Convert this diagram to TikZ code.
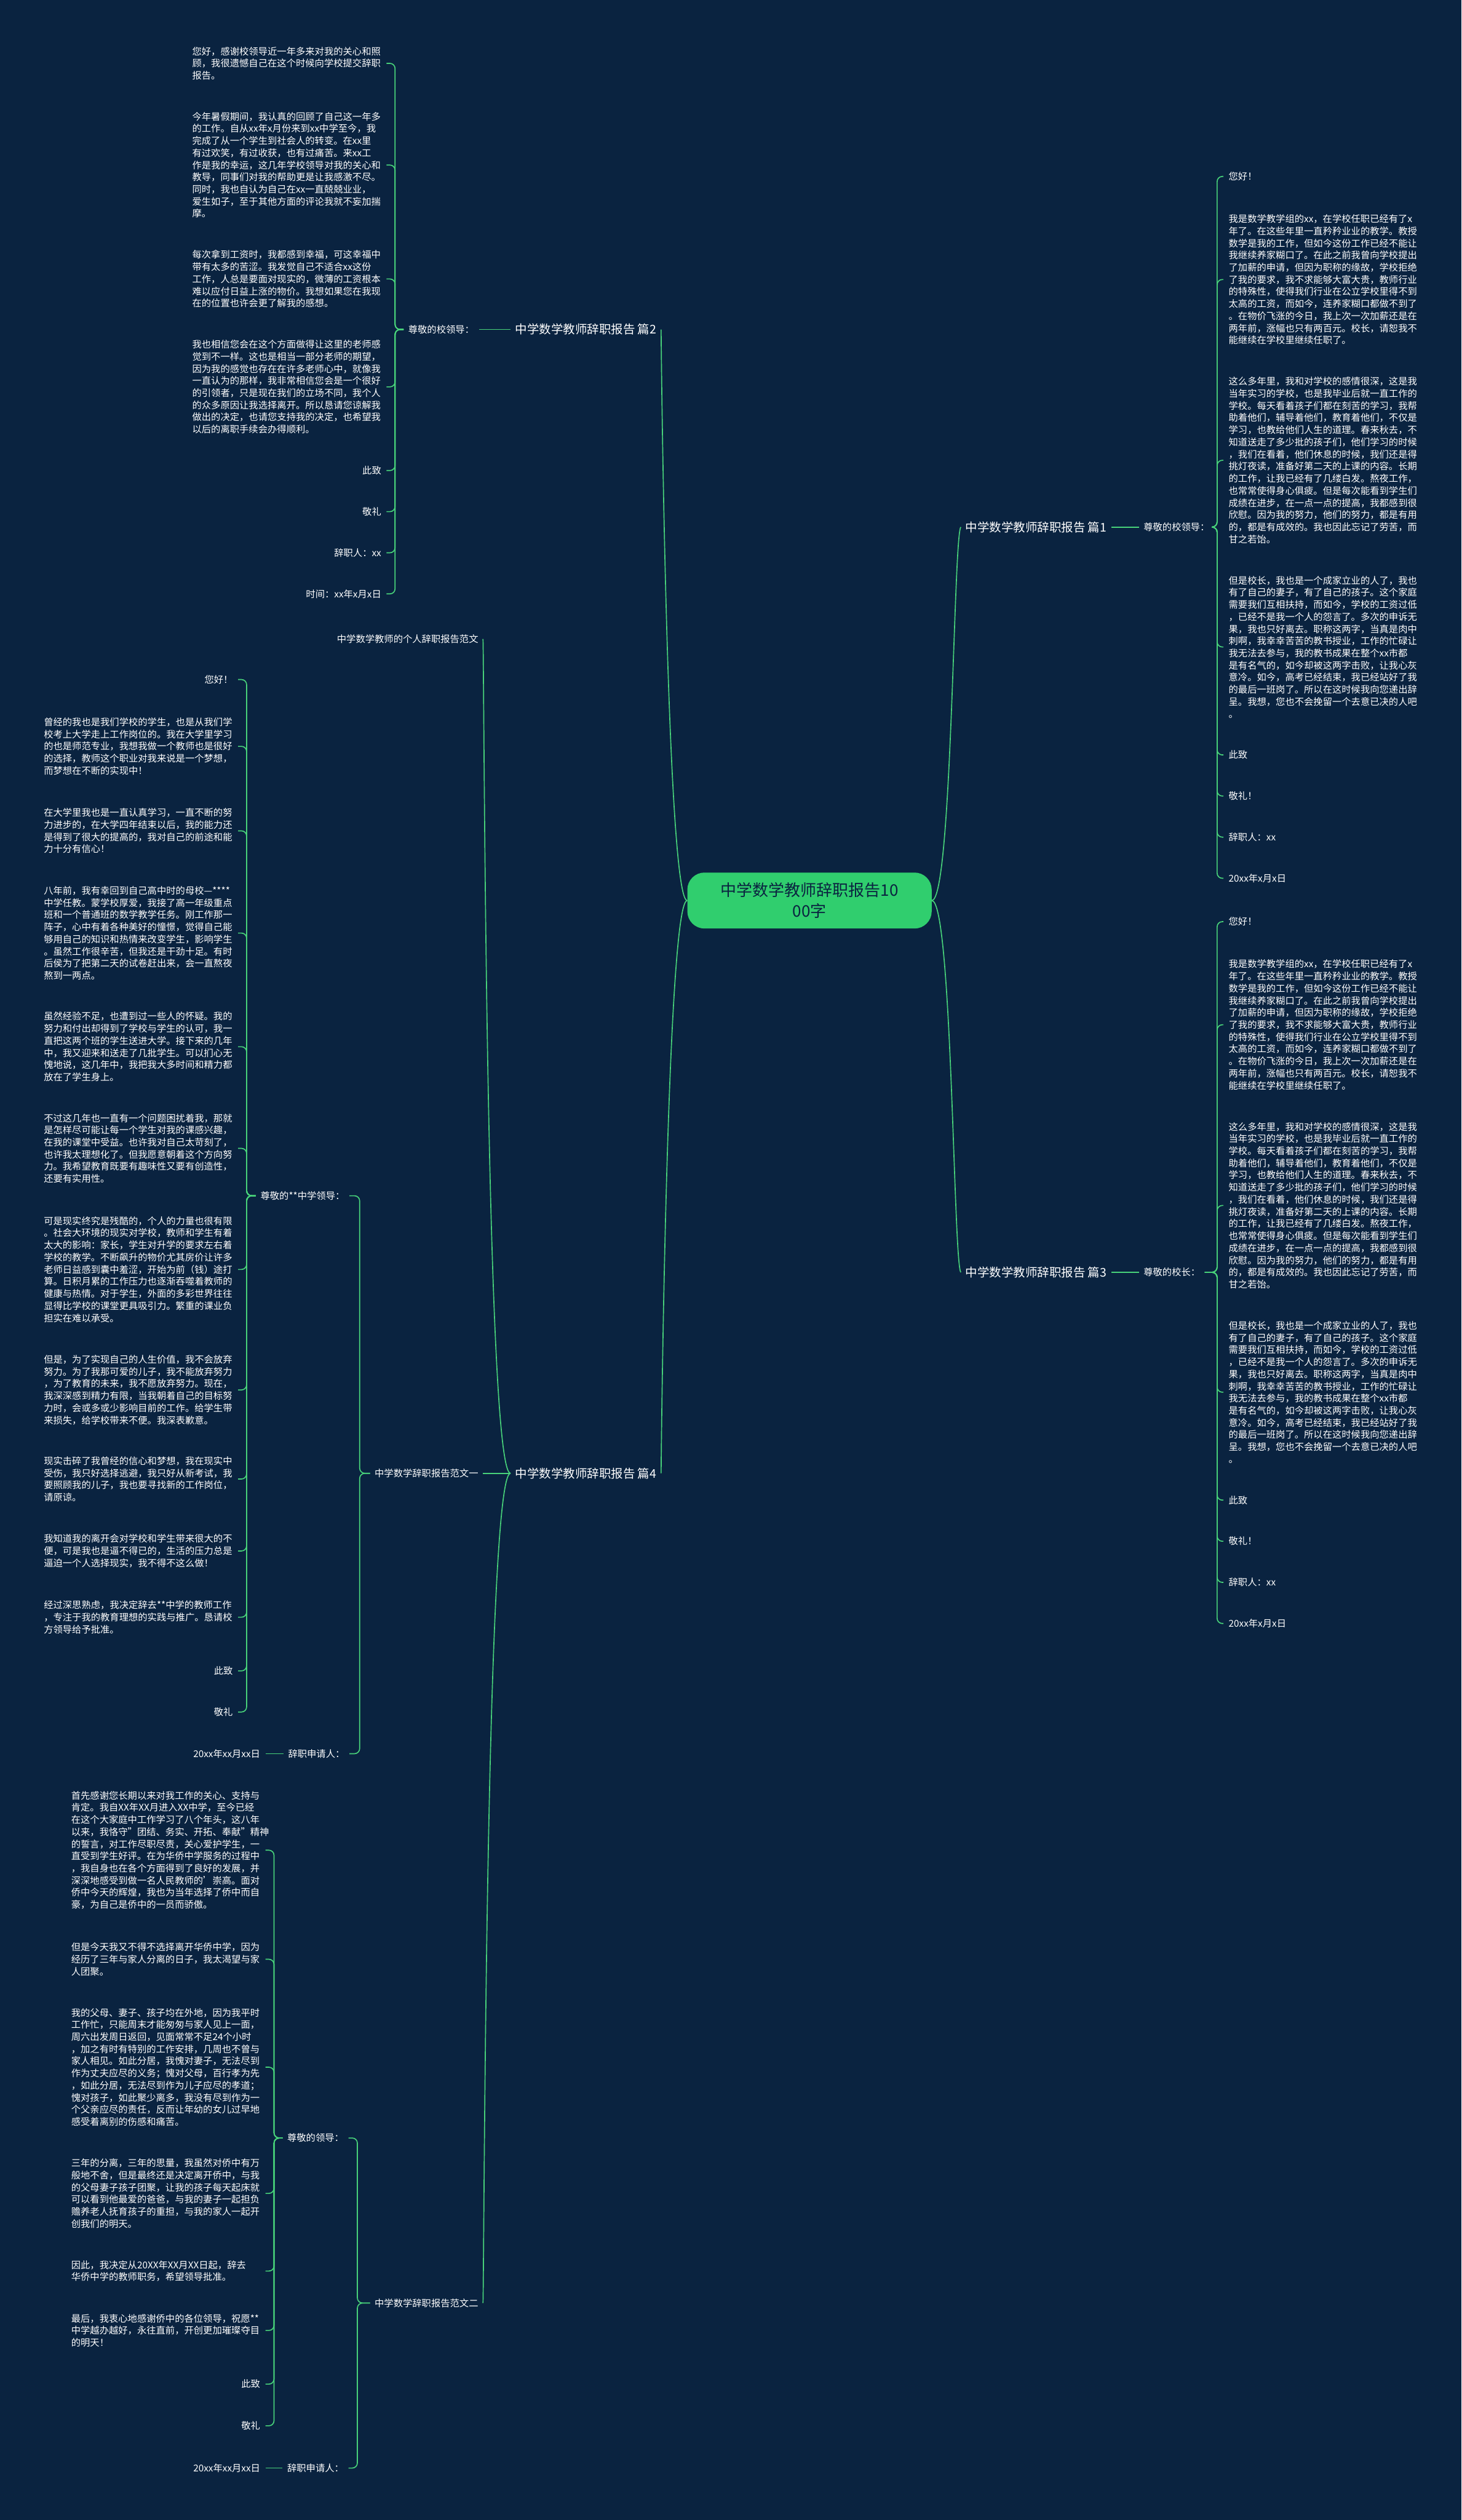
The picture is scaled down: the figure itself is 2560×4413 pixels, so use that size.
\documentclass[tikz,border=0pt]{standalone}
\usepackage{fontspec}
\setmainfont{Noto Sans CJK SC}
\definecolor{bg}{RGB}{10,35,64}
\definecolor{ln}{RGB}{72,210,122}
\definecolor{hubg}{RGB}{48,206,110}
\newcommand\pyA{我是数学教学组的xx，在学校任职已经有了x\\年了。在这些年里一直矜矜业业的教学。教授\\数学是我的工作，但如今这份工作已经不能让\\我继续养家糊口了。在此之前我曾向学校提出\\了加薪的申请，但因为职称的缘故，学校拒绝\\了我的要求，我不求能够大富大贵，教师行业\\的特殊性，使得我们行业在公立学校里得不到\\太高的工资，而如今，连养家糊口都做不到了\\。在物价飞涨的今日，我上次一次加薪还是在\\两年前，涨幅也只有两百元。校长，请恕我不\\能继续在学校里继续任职了。}
\newcommand\pyB{这么多年里，我和对学校的感情很深，这是我\\当年实习的学校，也是我毕业后就一直工作的\\学校。每天看着孩子们都在刻苦的学习，我帮\\助着他们，辅导着他们，教育着他们，不仅是\\学习，也教给他们人生的道理。春来秋去，不\\知道送走了多少批的孩子们，他们学习的时候\\，我们在看着，他们休息的时候，我们还是得\\挑灯夜读，准备好第二天的上课的内容。长期\\的工作，让我已经有了几缕白发。熬夜工作，\\也常常使得身心俱疲。但是每次能看到学生们\\成绩在进步，在一点一点的提高，我都感到很\\欣慰。因为我的努力，他们的努力，都是有用\\的，都是有成效的。我也因此忘记了劳苦，而\\甘之若饴。}
\newcommand\pyC{但是校长，我也是一个成家立业的人了，我也\\有了自己的妻子，有了自己的孩子。这个家庭\\需要我们互相扶持，而如今，学校的工资过低\\，已经不是我一个人的怨言了。多次的申诉无\\果，我也只好离去。职称这两字，当真是肉中\\刺啊，我幸幸苦苦的教书授业，工作的忙碌让\\我无法去参与，我的教书成果在整个xx市都\\是有名气的，如今却被这两字击败，让我心灰\\意冷。如今，高考已经结束，我已经站好了我\\的最后一班岗了。所以在这时候我向您递出辞\\呈。我想，您也不会挽留一个去意已决的人吧\\。}
\begin{document}
\begin{tikzpicture}[x=1pt,y=-1pt,
  body/.style={text=white,font=\fontsize{16.5}{21.25}\selectfont,align=left,inner xsep=9pt,inner ysep=0pt},
  rb/.style={body,anchor=west},
  lb/.style={body,anchor=east},
  wb/.style={text width=331pt},
  lab/.style={text=white,font=\fontsize{16.5}{21.25}\selectfont,inner xsep=8pt,inner ysep=0pt},
  big/.style={text=white,font=\fontsize{21}{25}\selectfont,inner xsep=8pt,inner ysep=0pt},
  br/.style={draw=ln,line width=1.8pt,rounded corners=9pt},
  cv/.style={draw=ln,line width=1.8pt},
  hub/.style={rounded corners=30pt,fill=hubg,text=bg,font=\fontsize{28}{37}\selectfont,align=center,minimum width=428pt,minimum height=98pt,inner sep=0pt}]
\fill[bg] (0,0) rectangle (2560,4413);
\useasboundingbox (0,0) rectangle (2560,4413);

\node[hub] (c) at (1418,1577) {中学数学教师辞职报告10\\00字};

% ---------- right: 篇1 ----------
\node[big,anchor=west] (p1) at (1683,923) {中学数学教师辞职报告 篇1};
\node[lab,anchor=west] (q1) at (1995,923) {尊敬的校领导：};
\node[rb] (a1) at (2143,309) {您好！};
\node[rb,wb] (a2) at (2143,489.5) {\pyA};
\node[rb,wb] (a3) at (2143,806) {\pyB};
\node[rb,wb] (a4) at (2143,1133) {\pyC};
\node[rb] (a5) at (2143,1322) {此致};
\node[rb] (a6) at (2143,1394) {敬礼！};
\node[rb] (a7) at (2143,1466) {辞职人：xx};
\node[rb] (a8) at (2143,1538) {20xx年x月x日};
\draw[cv] (c.east) .. controls (1668,1577) and (1670,940) .. (p1.west);
\draw[cv] (p1.east) -- (q1.west);
\foreach \n in {a1,a2,a3,a4,a5,a6,a7,a8} \draw[br] (q1.east) -- (2132,923) |- (\n.west);

% ---------- right: 篇3 ----------
\node[big,anchor=west] (p3) at (1683,2228) {中学数学教师辞职报告 篇3};
\node[lab,anchor=west] (q3) at (1995,2228) {尊敬的校长：};
\node[rb] (b1) at (2143,1614) {您好！};
\node[rb,wb] (b2) at (2143,1794.5) {\pyA};
\node[rb,wb] (b3) at (2143,2111) {\pyB};
\node[rb,wb] (b4) at (2143,2438) {\pyC};
\node[rb] (b5) at (2143,2627) {此致};
\node[rb] (b6) at (2143,2699) {敬礼！};
\node[rb] (b7) at (2143,2771) {辞职人：xx};
\node[rb] (b8) at (2143,2843) {20xx年x月x日};
\draw[cv] (c.east) .. controls (1668,1577) and (1670,2210) .. (p3.west);
\draw[cv] (p3.east) -- (q3.west);
\foreach \n in {b1,b2,b3,b4,b5,b6,b7,b8} \draw[br] (q3.east) -- (2132,2228) |- (\n.west);

% ---------- left: 篇2 ----------
\node[big,anchor=east] (p2) at (1158,577) {中学数学教师辞职报告 篇2};
\node[lab,anchor=west] (q2) at (707,577) {尊敬的校领导：};
\node[lb,wb] (d1) at (677,111) {您好，感谢校领导近一年多来对我的关心和照\\顾，我很遗憾自己在这个时候向学校提交辞职\\报告。};
\node[lb,wb] (d2) at (677,289) {今年暑假期间，我认真的回顾了自己这一年多\\的工作。自从xx年x月份来到xx中学至今，我\\完成了从一个学生到社会人的转变。在xx里\\有过欢笑，有过收获，也有过痛苦。来xx工\\作是我的幸运，这几年学校领导对我的关心和\\教导，同事们对我的帮助更是让我感激不尽。\\同时，我也自认为自己在xx一直兢兢业业，\\爱生如子，至于其他方面的评论我就不妄加揣\\摩。};
\node[lb,wb] (d3) at (677,488.5) {每次拿到工资时，我都感到幸福，可这幸福中\\带有太多的苦涩。我发觉自己不适合xx这份\\工作，人总是要面对现实的，微薄的工资根本\\难以应付日益上涨的物价。我想如果您在我现\\在的位置也许会更了解我的感想。};
\node[lb,wb] (d4) at (677,677.5) {我也相信您会在这个方面做得让这里的老师感\\觉到不一样。这也是相当一部分老师的期望，\\因为我的感觉也存在在许多老师心中，就像我\\一直认为的那样，我非常相信您会是一个很好\\的引领者，只是现在我们的立场不同，我个人\\的众多原因让我选择离开。所以恳请您谅解我\\做出的决定，也请您支持我的决定，也希望我\\以后的离职手续会办得顺利。};
\node[lb] (d5) at (677,824) {此致};
\node[lb] (d6) at (677,896) {敬礼};
\node[lb] (d7) at (677,968) {辞职人：xx};
\node[lb] (d8) at (677,1040) {时间：xx年x月x日};
\draw[cv] (c.west) .. controls (1168,1577) and (1158,600) .. (p2.east);
\draw[cv] (p2.west) -- (q2.east);
\foreach \n in {d1,d2,d3,d4,d5,d6,d7,d8} \draw[br] (q2.west) -- (692,577) |- (\n.east);

% ---------- left: 篇4 ----------
\node[big,anchor=east] (p4) at (1158,2580) {中学数学教师辞职报告 篇4};
\draw[cv] (c.west) .. controls (1168,1577) and (1158,2560) .. (p4.east);
\node[lab,anchor=east] (f0) at (846,1119) {中学数学教师的个人辞职报告范文};
\node[lab,anchor=east] (f1) at (846,2580) {中学数学辞职报告范文一};
\node[lab,anchor=east] (f2) at (846,4033) {中学数学辞职报告范文二};
\draw[cv] (p4.west) .. controls (850,2580) and (848,1140) .. (f0.east);
\draw[cv] (p4.west) -- (f1.east);
\draw[cv] (p4.west) .. controls (850,2580) and (848,4010) .. (f2.east);

% 范文一
\node[lab,anchor=east] (g1) at (612,2094) {尊敬的**中学领导：};
\node[lab,anchor=east] (g2) at (612,3071) {辞职申请人：};
\foreach \n in {g1,g2} \draw[br] (f1.west) -- (630,2580) |- (\n.east);
\node[lb] (h0) at (465,3071) {20xx年xx月xx日};
\draw[cv] (g2.west) -- (h0.east);
\node[lb] (e1) at (417,1190) {您好！};
\node[lb,wb] (e2) at (417,1307) {曾经的我也是我们学校的学生，也是从我们学\\校考上大学走上工作岗位的。我在大学里学习\\的也是师范专业，我想我做一个教师也是很好\\的选择，教师这个职业对我来说是一个梦想，\\而梦想在不断的实现中！};
\node[lb,wb] (e3) at (417,1455) {在大学里我也是一直认真学习，一直不断的努\\力进步的，在大学四年结束以后，我的能力还\\是得到了很大的提高的，我对自己的前途和能\\力十分有信心！};
\node[lb,wb] (e4) at (417,1634) {八年前，我有幸回到自己高中时的母校—****\\中学任教。蒙学校厚爱，我接了高一年级重点\\班和一个普通班的数学教学任务。刚工作那一\\阵子，心中有着各种美好的憧憬，觉得自己能\\够用自己的知识和热情来改变学生，影响学生\\。虽然工作很辛苦，但我还是干劲十足。有时\\后侯为了把第二天的试卷赶出来，会一直熬夜\\熬到一两点。};
\node[lb,wb] (e5) at (417,1833) {虽然经验不足，也遭到过一些人的怀疑。我的\\努力和付出却得到了学校与学生的认可，我一\\直把这两个班的学生送进大学。接下来的几年\\中，我又迎来和送走了几批学生。可以扪心无\\愧地说，这几年中，我把我大多时间和精力都\\放在了学生身上。};
\node[lb,wb] (e6) at (417,2011) {不过这几年也一直有一个问题困扰着我，那就\\是怎样尽可能让每一个学生对我的课感兴趣，\\在我的课堂中受益。也许我对自己太苛刻了，\\也许我太理想化了。但我愿意朝着这个方向努\\力。我希望教育既要有趣味性又要有创造性，\\还要有实用性。};
\node[lb,wb] (e7) at (417,2223) {可是现实终究是残酷的，个人的力量也很有限\\。社会大环境的现实对学校，教师和学生有着\\太大的影响：家长，学生对升学的要求左右着\\学校的教学。不断飙升的物价尤其房价让许多\\老师日益感到囊中羞涩，开始为前（钱）途打\\算。日积月累的工作压力也逐渐吞噬着教师的\\健康与热情。对于学生，外面的多彩世界往往\\显得比学校的课堂更具吸引力。繁重的课业负\\担实在难以承受。};
\node[lb,wb] (e8) at (417,2434) {但是，为了实现自己的人生价值，我不会放弃\\努力。为了我那可爱的儿子，我不能放弃努力\\，为了教育的未来，我不愿放弃努力。现在，\\我深深感到精力有限，当我朝着自己的目标努\\力时，会或多或少影响目前的工作。给学生带\\来损失，给学校带来不便。我深表歉意。};
\node[lb,wb] (e9) at (417,2590) {现实击碎了我曾经的信心和梦想，我在现实中\\受伤，我只好选择逃避，我只好从新考试，我\\要照顾我的儿子，我也要寻找新的工作岗位，\\请原谅。};
\node[lb,wb] (e10) at (417,2716) {我知道我的离开会对学校和学生带来很大的不\\便，可是我也是逼不得已的，生活的压力总是\\逼迫一个人选择现实，我不得不这么做！};
\node[lb,wb] (e11) at (417,2832) {经过深思熟虑，我决定辞去**中学的教师工作\\，专注于我的教育理想的实践与推广。恳请校\\方领导给予批准。};
\node[lb] (e12) at (417,2926) {此致};
\node[lb] (e13) at (417,2998) {敬礼};
\foreach \n in {e1,e2,e3,e4,e5,e6,e7,e8,e9,e10,e11,e12,e13} \draw[br] (g1.west) -- (432,2094) |- (\n.east);

% 范文二
\node[lab,anchor=west] (k1) at (495,3744) {尊敬的领导：};
\node[lab,anchor=west] (k2) at (495,4322) {辞职申请人：};
\foreach \n in {k1,k2} \draw[br] (f2.west) -- (626,4033) |- (\n.east);
\node[lb] (m0) at (465,4322) {20xx年xx月xx日};
\draw[cv] (k2.west) -- (m0.east);
\node[lb,wb] (n1) at (465,3240) {首先感谢您长期以来对我工作的关心、支持与\\肯定。我自XX年XX月进入XX中学，至今已经\\在这个大家庭中工作学习了八个年头，这八年\\以来，我恪守"团结、务实、开拓、奉献"精神\\的誓言，对工作尽职尽责，关心爱护学生，一\\直受到学生好评。在为华侨中学服务的过程中\\，我自身也在各个方面得到了良好的发展，并\\深深地感受到做一名人民教师的'崇高。面对\\侨中今天的辉煌，我也为当年选择了侨中而自\\豪，为自己是侨中的一员而骄傲。};
\node[lb,wb] (n2) at (465,3431) {但是今天我又不得不选择离开华侨中学，因为\\经历了三年与家人分离的日子，我太渴望与家\\人团聚。};
\node[lb,wb] (n3) at (465,3620) {我的父母、妻子、孩子均在外地，因为我平时\\工作忙，只能周末才能匆匆与家人见上一面，\\周六出发周日返回，见面常常不足24个小时\\，加之有时有特别的工作安排，几周也不曾与\\家人相见。如此分居，我愧对妻子，无法尽到\\作为丈夫应尽的义务；愧对父母，百行孝为先\\，如此分居，无法尽到作为儿子应尽的孝道；\\愧对孩子，如此聚少离多，我没有尽到作为一\\个父亲应尽的责任，反而让年幼的女儿过早地\\感受着离别的伤感和痛苦。};
\node[lb,wb] (n4) at (465,3841) {三年的分离，三年的思量，我虽然对侨中有万\\般地不舍，但是最终还是决定离开侨中，与我\\的父母妻子孩子团聚，让我的孩子每天起床就\\可以看到他最爱的爸爸，与我的妻子一起担负\\赡养老人抚育孩子的重担，与我的家人一起开\\创我们的明天。};
\node[lb,wb] (n5) at (465,3977) {因此，我决定从20XX年XX月XX日起，辞去\\华侨中学的教师职务，希望领导批准。};
\node[lb,wb] (n6) at (465,4081) {最后，我衷心地感谢侨中的各位领导，祝愿**\\中学越办越好，永往直前，开创更加璀璨夺目\\的明天！};
\node[lb] (n7) at (465,4175) {此致};
\node[lb] (n8) at (465,4248) {敬礼};
\foreach \n in {n1,n2,n3,n4,n5,n6,n7,n8} \draw[br] (k1.west) -- (480,3744) |- (\n.east);
\end{tikzpicture}
\end{document}
